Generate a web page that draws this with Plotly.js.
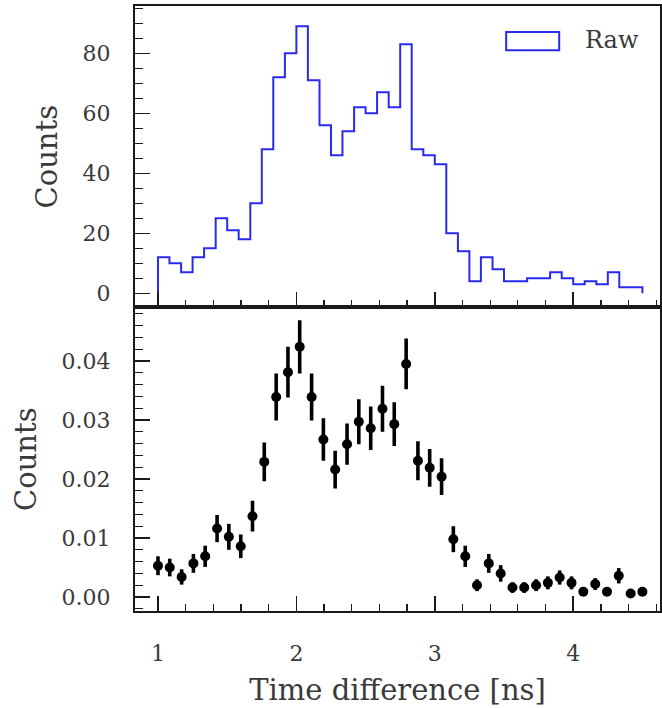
<!DOCTYPE html>
<html>
<head>
<meta charset="utf-8">
<script src="https://cdn.plot.ly/plotly-3.0.1.min.js"></script>
<style>html,body{margin:0;padding:0;background:#fff;}#chart{width:662px;height:708px;}</style>
</head>
<body>
<div id="chart"></div>
<script>
// Top panel: raw histogram (bin edges in ns, counts per bin)
const rawEdges = [1.000, 1.083, 1.167, 1.250, 1.333, 1.417, 1.500, 1.583, 1.667, 1.750, 1.833, 1.917,
  2.000, 2.083, 2.167, 2.250, 2.333, 2.417, 2.500, 2.583, 2.667, 2.750, 2.833, 2.917,
  3.000, 3.083, 3.167, 3.250, 3.333, 3.417, 3.500, 3.583, 3.667, 3.750, 3.833, 3.917,
  4.000, 4.083, 4.167, 4.250, 4.333, 4.417, 4.500];
const rawCounts = [12, 10, 7, 12, 15, 25, 21, 18, 30, 48, 72, 80,
  89, 71, 56, 46, 54, 62, 60, 67, 62, 83, 48, 46,
  43, 20, 14, 4, 12, 8, 4, 4, 5, 5, 7, 5,
  3, 4, 3, 7, 2, 2];

// Bottom panel: normalised points with error bars
const normX = [1.000, 1.085, 1.171, 1.256, 1.341, 1.427, 1.512, 1.598, 1.683, 1.768, 1.854, 1.939,
  2.024, 2.110, 2.195, 2.280, 2.366, 2.451, 2.537, 2.622, 2.707, 2.793, 2.878, 2.963,
  3.049, 3.134, 3.220, 3.305, 3.390, 3.476, 3.561, 3.646, 3.732, 3.817, 3.902, 3.988,
  4.073, 4.159, 4.244, 4.329, 4.415, 4.500];
const normY = [0.0053, 0.0050, 0.0034, 0.0057, 0.0069, 0.0116, 0.0102, 0.0086, 0.0137, 0.0229, 0.0339, 0.0381,
  0.0424, 0.0339, 0.0267, 0.0216, 0.0259, 0.0297, 0.0286, 0.0319, 0.0293, 0.0395, 0.0231, 0.0219,
  0.0204, 0.0098, 0.0069, 0.0020, 0.0057, 0.0040, 0.0016, 0.0016, 0.0020, 0.0024, 0.0033, 0.0024,
  0.0009, 0.0022, 0.0009, 0.0036, 0.0006, 0.0009];
const normErr = [0.0016, 0.0015, 0.0013, 0.0016, 0.0018, 0.0023, 0.0022, 0.0020, 0.0026, 0.0033, 0.0040, 0.0043,
  0.0045, 0.0040, 0.0036, 0.0032, 0.0035, 0.0038, 0.0037, 0.0039, 0.0037, 0.0043, 0.0033, 0.0032,
  0.0031, 0.0022, 0.0018, 0.0010, 0.0016, 0.0014, 0.0009, 0.0009, 0.0010, 0.0011, 0.0012, 0.0011,
  0.0007, 0.0010, 0.0007, 0.0013, 0.0005, 0.0007];

const legendLabel = "Raw";
const xTitle = "Time difference [ns]";
const yTitle = "Counts";

// step outline built from edges + counts
const stepX = [rawEdges[0]];
const stepY = [0];
for (let i = 0; i < rawCounts.length; i++) { stepX.push(rawEdges[i]); stepY.push(rawCounts[i]); }
stepX.push(rawEdges[rawEdges.length - 1]); stepY.push(rawCounts[rawCounts.length - 1]);
stepX.push(rawEdges[rawEdges.length - 1]); stepY.push(0);

const FONT = "DejaVu Serif";
const TXT = "#3a3a3a";
const FRAME = "#1a1a1a";

const traces = [
  {
    x: stepX, y: stepY, xaxis: "x2", yaxis: "y2", type: "scatter", mode: "lines",
    line: {shape: "hv", color: "#2a2aee", width: 2}, name: legendLabel, showlegend: false,
    hoverinfo: "skip"
  },
  {
    x: normX, y: normY, xaxis: "x", yaxis: "y", type: "scatter", mode: "markers",
    marker: {color: "#000", size: 10},
    error_y: {type: "data", array: normErr, visible: true, thickness: 3.6, width: 0, color: "#000"},
    showlegend: false
  }
];

const XR = [0.834, 4.627];
const split = 0.5017;
const baseAxis = {
  showline: true, linecolor: FRAME, linewidth: 2, mirror: true,
  ticks: "inside", tickcolor: FRAME, tickwidth: 1.5, ticklen: 15,
  showgrid: false, zeroline: false,
  tickfont: {family: FONT, size: 22, color: TXT}
};

const layout = {
  width: 662, height: 708,
  margin: {l: 135, r: 1.5, t: 6, b: 97},
  paper_bgcolor: "#fff", plot_bgcolor: "#fff",
  showlegend: false,
  font: {family: FONT, color: TXT},
  xaxis: Object.assign({}, baseAxis, {
    domain: [0, 1], anchor: "y", range: XR, tick0: 1, dtick: 1,
    ticklabelstandoff: 22,
    minor: {dtick: 0.2, ticks: "inside", ticklen: 7, tickcolor: FRAME, tickwidth: 1.3, showgrid: false},
    title: {text: xTitle, font: {family: FONT, size: 29, color: TXT}, standoff: 14}
  }),
  yaxis: Object.assign({}, baseAxis, {
    domain: [0, split], anchor: "x", range: [-0.00237, 0.04907],
    tick0: 0, dtick: 0.01, tickformat: ".2f", ticklabelstandoff: 18,
    minor: {dtick: 0.002, ticks: "inside", ticklen: 8, tickcolor: FRAME, tickwidth: 1.3, showgrid: false},
    title: {text: yTitle, font: {family: FONT, size: 29, color: TXT}, standoff: 16}
  }),
  xaxis2: Object.assign({}, baseAxis, {
    domain: [0, 1], anchor: "y2", range: XR, tick0: 1, dtick: 1, matches: "x",
    showticklabels: false,
    minor: {dtick: 0.2, ticks: "inside", ticklen: 7, tickcolor: FRAME, tickwidth: 1.3, showgrid: false}
  }),
  yaxis2: Object.assign({}, baseAxis, {
    domain: [split, 1], anchor: "x2", range: [-4.73, 95.77],
    tick0: 0, dtick: 20, ticklabelstandoff: 18,
    minor: {dtick: 5, ticks: "inside", ticklen: 8, tickcolor: FRAME, tickwidth: 1.3, showgrid: false},
    title: {text: yTitle, font: {family: FONT, size: 29, color: TXT}, standoff: 16}
  }),
  shapes: [
    {type: "rect", xref: "paper", yref: "paper", x0: 0.707, x1: 0.808, y0: 0.927, y1: 0.957,
     line: {color: "#2a2aee", width: 2}, fillcolor: "rgba(0,0,0,0)"}
  ],
  annotations: [
    {xref: "paper", yref: "paper", x: 0.853, y: 0.944, xanchor: "left", yanchor: "middle",
     text: legendLabel, showarrow: false, font: {family: FONT, size: 24, color: TXT}}
  ]
};

Plotly.newPlot("chart", traces, layout, {displayModeBar: false, staticPlot: true});
</script>
</body>
</html>
